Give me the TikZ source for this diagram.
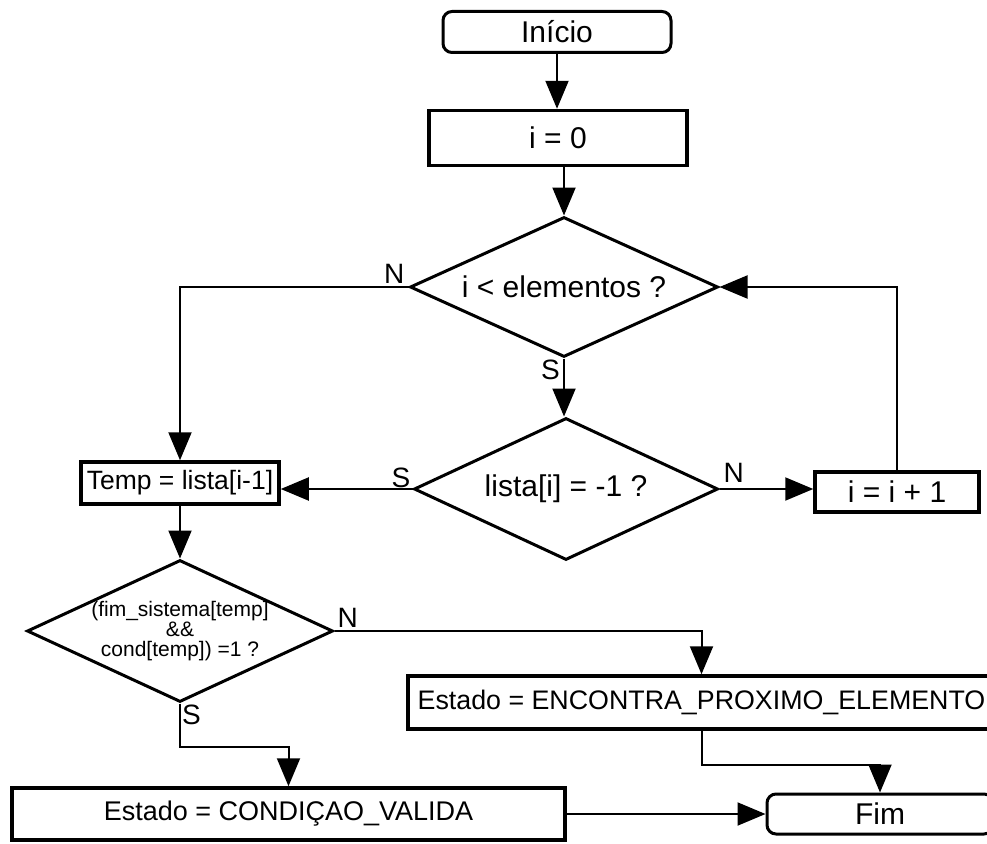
\documentclass[tikz,border=0pt]{standalone}
\usepackage{fontspec}
\setmainfont{Liberation Sans}
\usetikzlibrary{shapes.geometric,arrows.meta}

\tikzset{
  proc/.style={draw, rectangle, line width=3.5pt, inner sep=0pt,
    font=\fontsize{30}{32}\selectfont},
  term/.style={draw, rectangle, rounded corners=9pt, line width=3pt, inner sep=0pt,
    font=\fontsize{30}{32}\selectfont},
  dec/.style={draw, diamond, line width=3pt, inner sep=0pt},
  dectext/.style={font=\fontsize{30}{32}\selectfont, inner sep=0pt},
  smalltext/.style={font=\fontsize{21}{20}\selectfont, align=center, inner sep=0pt},
  flow/.style={line width=2pt, -{Triangle[length=28pt,width=23pt]}},
  lbl/.style={inner sep=0pt, font=\fontsize{28}{30}\selectfont},
}

\begin{document}
\begin{tikzpicture}[x=1pt,y=-1pt]
\useasboundingbox (0,0) rectangle (987,843);
\clip (0,0) rectangle (987,843);
\fill[white] (0,0) rectangle (987,843);

% process steps
\node[term, minimum width=228pt, minimum height=41pt] (inicio) at (557,32) {Início};
\node[proc, minimum width=258pt, minimum height=55pt] (i0) at (558,138) {i = 0};
\node[dec, minimum width=308pt, minimum height=140pt,
  label={[dectext]center:i < elementos ?}] (d1) at (564,287) {};
\node[dec, minimum width=304pt, minimum height=142pt,
  label={[dectext]center:lista[i] = -1 ?}] (d2) at (566,489) {};
\node[proc, minimum width=198pt, minimum height=42pt,
  font=\fontsize{26.5}{28}\selectfont] (temp) at (180,483) {Temp = lista[i-1]};
\node[proc, minimum width=164pt, minimum height=40pt] (inc) at (897,492) {i = i + 1};
\node[dec, minimum width=306pt, minimum height=142pt,
  label={[smalltext]center:{(fim\_sistema[temp]\\\&\&\\cond[temp]) =1 ?}}] (d3) at (180,631) {};
\node[proc, minimum width=587pt, minimum height=53pt,
  font=\fontsize{26.8}{28}\selectfont] (enc) at (701.5,702.5) {Estado = ENCONTRA\_PROXIMO\_ELEMENTO};
\node[proc, minimum width=553pt, minimum height=52pt,
  font=\fontsize{27}{29}\selectfont] (cv) at (288.5,814) {Estado = CONDIÇAO\_VALIDA};
\node[term, minimum width=226pt, minimum height=40pt] (fim) at (880,814) {Fim};

% connectors
\draw[flow] (inicio.south) -- (inicio.south |- i0.north);
\draw[flow] (i0.south -| d1.north) -- (d1.north);
\draw[flow] (d1.west) -| (temp.north);
\draw[flow] (d1.south) -- (d1.south |- d2.north);
\draw[flow] (d2.west) -- (d2.west -| temp.east);
\draw[flow] (d2.east) -- (d2.east -| inc.west);
\draw[flow] (inc.north) |- (d1.east);
\draw[flow] (temp.south) -- (temp.south |- d3.north);
\draw[flow] (d3.east) -| (enc.north);
\draw[flow] (d3.south) -- ++(0,43) -| (cv.north);
\draw[flow] (enc.south) -- ++(0,34) -| (fim.north);
\draw[flow] (cv.east) -- (cv.east -| fim.west);

% branch labels
\node[lbl, anchor=south east] (n1) at ([xshift=-4pt,yshift=3pt]d1.west) {N};
\node[lbl, anchor=north east] (s1) at ([xshift=-4pt,yshift=-1pt]d1.south) {S};
\node[lbl, anchor=south east] (s2) at ([xshift=-2pt,yshift=1pt]d2.west) {S};
\node[lbl, anchor=south west] (n2) at ([xshift=4pt,yshift=6pt]d2.east) {N};
\node[lbl, anchor=south west] (n3) at ([xshift=3pt,yshift=3pt]d3.east) {N};
\node[lbl, anchor=north west] (s3) at ([xshift=2pt,yshift=-1pt]d3.south) {S};
\end{tikzpicture}
\end{document}
